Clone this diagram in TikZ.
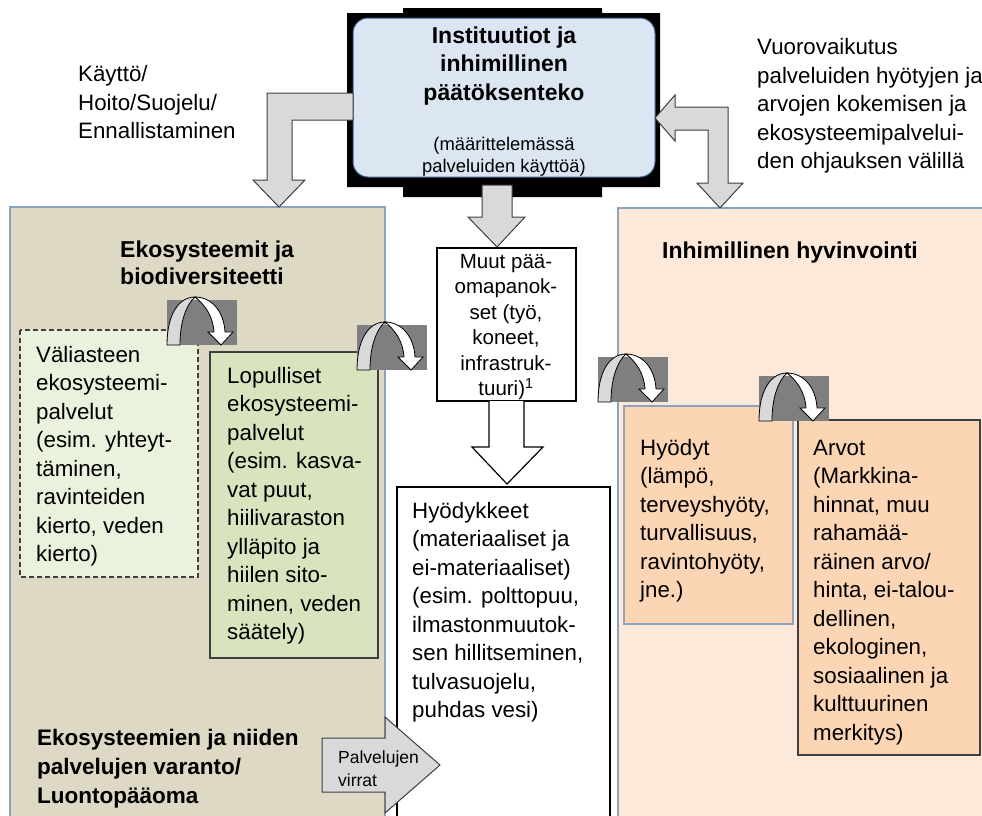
\documentclass[tikz,border=0pt]{standalone}
\usepackage{fontspec}
\setmainfont{Liberation Sans}
\definecolor{tan}{HTML}{DDD9C4}
\definecolor{peach}{HTML}{FDE9D9}
\definecolor{boxblue}{HTML}{8EA2BD}
\definecolor{lgreen}{HTML}{EAF1DD}
\definecolor{mgreen}{HTML}{D7E4BD}
\definecolor{orng}{HTML}{FCD5B4}
\definecolor{topblue}{HTML}{DCE6F2}
\definecolor{topedge}{HTML}{385D8A}
\definecolor{arrgray}{HTML}{D9D9D9}
\definecolor{icongray}{HTML}{7F7F7F}
\definecolor{darkedge}{HTML}{3F3F3F}
\tikzset{
  txt/.style={inner sep=0pt, anchor=north west, align=left, text=black,
    font={\fontsize{22.3}{28.5}\selectfont}},
  btxt/.style={inner sep=0pt, anchor=north west, align=left, text=black,
    font={\fontsize{23}{28.5}\selectfont\bfseries}},
  blockarrow/.style={fill=arrgray, draw=darkedge, line width=1pt, line join=miter},
  hollowarrow/.style={fill=white, draw=black, line width=1.2pt, line join=miter},
  bigedge/.style={draw=boxblue, line width=1.5pt},
  inbox/.style={draw=darkedge, line width=1.2pt},
}
\newcommand{\cicon}[2]{%
\begin{scope}[shift={(#1,#2)}]
  \fill[icongray] (0,0) rectangle (70,45);
  \filldraw[fill=arrgray, draw=black, line width=0.8pt]
    (0,45) .. controls (0,14) and (12,-3) .. (28,-3)
    .. controls (19,5) and (13,22) .. (13,45) -- cycle;
  \filldraw[fill=white, draw=black, line width=0.8pt, line join=miter]
    (28,-3) .. controls (45,-3) and (57,12) .. (58,32) -- (66,32) -- (54,45)
    -- (41,32) -- (47,32) .. controls (46,16) and (38,5) .. (28,-3) -- cycle;
\end{scope}}
\begin{document}
\begin{tikzpicture}[x=1pt,y=-1pt]
\useasboundingbox (0,0) rectangle (982,815);
% big boxes
\fill[tan] (10,207) rectangle (385,816);
\draw[bigedge] (10,816) -- (10,207) -- (385,207) -- (385,816);
\fill[peach] (618,208) rectangle (983,816);
\draw[bigedge] (618,816) -- (618,208) -- (983,208);
% Muut box and Hyodykkeet box
\filldraw[fill=white, draw=black, line width=1.2pt] (437,248) rectangle (576,401);
\filldraw[fill=white, draw=black, line width=1.2pt] (397,816) -- (397,487) -- (610,487) -- (610,816);
% inner boxes
\filldraw[fill=lgreen, inbox, dash pattern=on 5pt off 3pt] (20,330) rectangle (198,577);
\filldraw[fill=mgreen, inbox] (210,352) rectangle (378,658);
\filldraw[fill=orng, draw=boxblue, line width=1.5pt] (624,406) rectangle (793,624);
\filldraw[fill=orng, inbox] (798,420) rectangle (980,755);
% top box
\fill[black] (347,13) -- (403,13) -- (403,8) -- (602,8) -- (602,13) -- (660,13)
  -- (660,187) -- (602,187) -- (602,197) -- (403,197) -- (403,187) -- (347,187) -- cycle;
\filldraw[fill=topblue, draw=topedge, line width=1pt, rounded corners=15pt] (353,18) rectangle (655,177);
% white hollow arrow Muut -> Hyodykkeet
\draw[hollowarrow] (489,401) -- (489,447) -- (472,447) -- (507,484) -- (543,447) -- (524,447) -- (524,401);
% texts
\node[btxt, anchor=north, align=center] (inst) at (504,23) {\strut Instituutiot ja\\inhimillinen\\päätöksenteko};
\node[inner sep=0pt, anchor=north, align=center, font={\fontsize{18.4}{22}\selectfont}] (instsub) at (504,134.6) {\strut(määrittelemässä\\palveluiden käyttöä)};
\node[txt] (kaytto) at (78,61.5) {\strut Käyttö/\\Hoito/Suojelu/\\Ennallistaminen};
\node[txt] (vuoro) at (757,34.5) {\strut Vuorovaikutus\\palveluiden hyötyjen ja\\arvojen kokemisen ja\\ekosysteemipalvelui-\\den ohjauksen välillä};
\node[btxt, font={\fontsize{23}{27}\selectfont\bfseries}] (eko) at (120,238) {\strut Ekosysteemit ja\\biodiversiteetti};
\node[btxt] (hyvin) at (662,238) {\strut Inhimillinen hyvinvointi};
\node[btxt, font={\fontsize{22.5}{29}\selectfont\bfseries}] (varanto) at (37,724.7) {\strut Ekosysteemien ja niiden\\palvelujen varanto/\\Luontopääoma};
\node[txt] (vali) at (36,342) {\strut Väliasteen\\ekosysteemi-\\palvelut\\(esim. yhteyt-\\täminen,\\ravinteiden\\kierto, veden\\kierto)};
\node[txt] (lop) at (227,363) {\strut Lopulliset\\ekosysteemi-\\palvelut\\(esim. kasva-\\vat puut,\\hiilivaraston\\ylläpito ja\\hiilen sito-\\minen, veden\\säätely)};
\node[inner sep=0pt, anchor=north, align=center, font={\fontsize{20.5}{25.5}\selectfont}] (muut) at (506,250) {\strut Muut pää-\\omapanok-\\set (työ,\\koneet,\\infrastruk-\\tuuri)\textsuperscript{1}};
\node[txt] (hyodykkeet) at (412,498) {\strut Hyödykkeet\\(materiaaliset ja\\ei-materiaaliset)\\(esim. polttopuu,\\ilmastonmuutok-\\sen hillitseminen,\\tulvasuojelu,\\puhdas vesi)};
\node[txt] (hyodyt) at (640,435) {\strut Hyödyt\\(lämpö,\\terveyshyöty,\\turvallisuus,\\ravintohyöty,\\jne.)};
\node[txt] (arvot) at (813,435) {\strut Arvot\\(Markkina-\\hinnat, muu\\rahamää-\\räinen arvo/\\hinta, ei-talou-\\dellinen,\\ekologinen,\\sosiaalinen ja\\kulttuurinen\\merkitys)};
% icons
\cicon{167}{300}
\cicon{357}{325}
\cicon{598}{357}
\cicon{759}{376}
% gray block arrows
\draw[blockarrow] (353,93) -- (267,93) -- (267,180) -- (253,180) -- (279,207) -- (305,180) -- (292,180) -- (292,120) -- (353,120) -- cycle;
\draw[blockarrow] (655,118) -- (675,95) -- (675,107) -- (728,107) -- (728,183) -- (743,183) -- (720,208) -- (697,183) -- (708,183) -- (708,130) -- (675,130) -- (675,141) -- cycle;
\draw[blockarrow] (482,185) -- (512,185) -- (512,217) -- (525,217) -- (497,247) -- (468,217) -- (482,217) -- cycle;
\draw[blockarrow] (322,738) -- (385,738) -- (385,717) -- (440,765) -- (385,813) -- (385,792) -- (322,792) -- cycle;
\node[inner sep=0pt, anchor=north west, align=left, font={\fontsize{17.5}{23}\selectfont}] (virrat) at (338,747) {\strut Palvelujen\\virrat};
\end{tikzpicture}
\end{document}
